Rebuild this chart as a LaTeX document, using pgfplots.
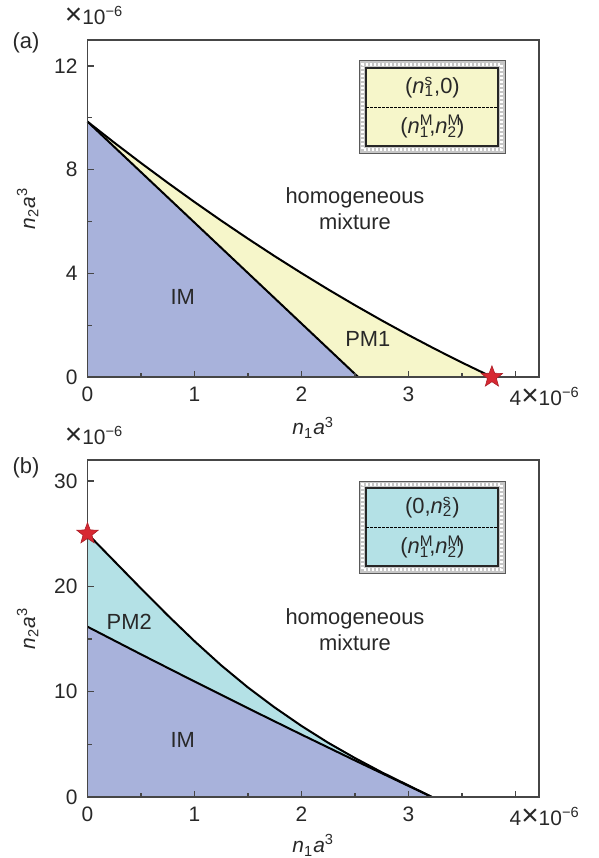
\documentclass[border=0pt]{standalone}
\usepackage{fontspec}
\setmainfont{Liberation Sans}
\usepackage{pgfplots}
\pgfplotsset{compat=1.18}

\definecolor{imblue}{RGB}{168,178,219}
\definecolor{pmyellow}{RGB}{246,246,202}
\definecolor{pmcyan}{RGB}{180,225,230}
\definecolor{starred}{RGB}{215,40,50}
\definecolor{axgray}{RGB}{70,70,70}
\definecolor{txt}{RGB}{40,40,40}

% filled five-pointed star
\pgfdeclareplotmark{fivestar}{%
  \pgfpathmoveto{\pgfpointpolar{90}{\pgfplotmarksize}}%
  \pgfpathlineto{\pgfpointpolar{126}{0.42\pgfplotmarksize}}%
  \pgfpathlineto{\pgfpointpolar{162}{\pgfplotmarksize}}%
  \pgfpathlineto{\pgfpointpolar{198}{0.42\pgfplotmarksize}}%
  \pgfpathlineto{\pgfpointpolar{234}{\pgfplotmarksize}}%
  \pgfpathlineto{\pgfpointpolar{270}{0.42\pgfplotmarksize}}%
  \pgfpathlineto{\pgfpointpolar{306}{\pgfplotmarksize}}%
  \pgfpathlineto{\pgfpointpolar{342}{0.42\pgfplotmarksize}}%
  \pgfpathlineto{\pgfpointpolar{18}{\pgfplotmarksize}}%
  \pgfpathlineto{\pgfpointpolar{54}{0.42\pgfplotmarksize}}%
  \pgfpathclose\pgfusepathqfillstroke}

\newcommand{\tck}{\fontsize{10.5}{12}\selectfont}
\newcommand{\lab}{\fontsize{11}{13}\selectfont}
\newcommand{\tenm}{{\fontsize{15}{15}\selectfont ×}10\textsuperscript{−6}}
\newcommand{\exten}{\rlap{\tenm}}

\pgfplotsset{
  frame/.style={
    scale only axis, width=225.75bp, height=168.5bp,
    anchor=south west, clip=false, xmin=0, xmax=4.22, ymin=0},
  panel/.style={
    frame, axis on top,
    xtick={0,1,2,3,4}, minor xtick={0.5,1.5,2.5,3.5},
    xticklabels={0,1,2,3,4\exten},
    tick pos=left, tick align=inside,
    major tick length=3bp, minor tick length=2bp,
    tick style={axgray, line width=0.6pt},
    axis line style={axgray, line width=0.8pt},
    ticklabel style={font=\tck, text=txt},
    xticklabel style={yshift=-1.5bp},
    yticklabel style={xshift=-1.5bp},
    /pgf/number format/assume math mode=true,
  },
  bnd/.style={black, line width=1bp},
  starplot/.style={only marks, mark=fivestar, mark size=5.6bp,
    mark options={fill=starred, draw=starred!80!black, line width=0.3pt}},
}

\begin{document}
\begin{tikzpicture}
\path[use as bounding box] (0,0) rectangle (299.5bp,-429bp);

% ---------- panel (a)
\begin{axis}[panel, at={(43.75bp,-188.5bp)},
  ymax=13, ytick={0,4,8,12}, minor ytick={2,6,10}, yticklabels={0,4,8,12}]
\addplot[fill=pmyellow, draw=none] coordinates {
(0,9.85)(0.25,9.042)(0.5,8.256)(0.75,7.493)(1.0,6.751)(1.25,6.032)(1.5,5.335)
(1.75,4.660)(2.0,4.008)(2.25,3.377)(2.5,2.769)(2.75,2.183)(3.0,1.619)
(3.25,1.077)(3.5,0.557)(3.78,0)} \closedcycle;
\addplot[fill=imblue, draw=none] coordinates {(0,9.85)(2.53,0)} \closedcycle;
\addplot[bnd] coordinates {
(0,9.85)(0.25,9.042)(0.5,8.256)(0.75,7.493)(1.0,6.751)(1.25,6.032)(1.5,5.335)
(1.75,4.660)(2.0,4.008)(2.25,3.377)(2.5,2.769)(2.75,2.183)(3.0,1.619)
(3.25,1.077)(3.5,0.557)(3.78,0)};
\addplot[bnd] coordinates {(0,9.85)(2.53,0)};

\node[font=\lab, text=txt, align=center] at (axis cs:2.5,6.5) {homogeneous\\mixture};
\node[font=\lab, text=txt] at (axis cs:0.89,3.09) {IM};
\node[font=\lab, text=txt] at (axis cs:2.62,1.47) {PM1};

% inset
\fill[gray!45] (rel axis cs:0.602,0.665) rectangle (rel axis cs:0.925,0.938);
\draw[white, line width=1.6bp, dash pattern=on 1bp off 1bp]
  (rel axis cs:0.6098,0.6755) rectangle (rel axis cs:0.9172,0.9275);
\draw[gray!70!black, line width=0.4bp] (rel axis cs:0.602,0.665) rectangle (rel axis cs:0.925,0.938);
\draw[fill=pmyellow, draw=black!85, line width=0.9bp]
  (rel axis cs:0.6175,0.686) rectangle (rel axis cs:0.9095,0.917);
\draw[black, line width=0.5bp, dash pattern=on 1.2bp off 0.8bp]
  (rel axis cs:0.6175,0.801) -- (rel axis cs:0.9095,0.801);
\node[font=\lab, text=txt] at (rel axis cs:0.764,0.858)
  {(\textit{n}\rlap{\textsuperscript{s}}\textsubscript{1},0)};
\node[font=\lab, text=txt] at (rel axis cs:0.764,0.742)
  {(\textit{n}\rlap{\textsuperscript{M}}\textsubscript{1},\textit{n}\rlap{\textsuperscript{M}}\textsubscript{2})};

% labels
\node[font=\tck, text=txt] at (axis cs:2.11,-1.95)
  {\textit{n}\textsubscript{1}\textit{a}\textsuperscript{3}};
\node[font=\tck, text=txt, rotate=90] at (axis cs:-0.56,6.5)
  {\textit{n}\textsubscript{2}\textit{a}\textsuperscript{3}};
\node[font=\tck, text=txt, anchor=west, inner sep=0pt]
  at (axis cs:-0.215,13.96) {\tenm};
\node[font=\lab, text=txt] at (axis cs:-0.575,12.88) {(a)};
\end{axis}
\begin{axis}[frame, hide axis, at={(43.75bp,-188.5bp)}, ymax=13]
\addplot[starplot] coordinates {(3.78,0)};
\end{axis}

% ---------- panel (b)
\begin{axis}[panel, at={(43.75bp,-398.5bp)},
  ymax=32, ytick={0,10,20,30}, minor ytick={5,15,25}, yticklabels={0,10,20,30}]
\addplot[fill=pmcyan, draw=none] coordinates {
(0,25.0)(0.25,22.4)(0.5,19.8)(0.75,17.25)(1.0,14.8)(1.25,12.5)(1.5,10.4)
(1.75,8.5)(2.0,6.75)(2.25,5.15)(2.5,3.70)(2.75,2.35)(3.0,1.10)(3.22,0)} \closedcycle;
\addplot[fill=imblue, draw=none] coordinates {
(0,16.17)(0.5,13.55)(1.0,10.97)(1.5,8.43)(2.0,5.93)(2.5,3.47)(3.0,1.05)(3.22,0)} \closedcycle;
\addplot[bnd] coordinates {
(0,25.0)(0.25,22.4)(0.5,19.8)(0.75,17.25)(1.0,14.8)(1.25,12.5)(1.5,10.4)
(1.75,8.5)(2.0,6.75)(2.25,5.15)(2.5,3.70)(2.75,2.35)(3.0,1.10)(3.22,0)};
\addplot[bnd] coordinates {
(0,16.17)(0.5,13.55)(1.0,10.97)(1.5,8.43)(2.0,5.93)(2.5,3.47)(3.0,1.05)(3.22,0)};

\node[font=\lab, text=txt, align=center] at (axis cs:2.5,15.85) {homogeneous\\mixture};
\node[font=\lab, text=txt] at (axis cs:0.39,16.6) {PM2};
\node[font=\lab, text=txt] at (axis cs:0.89,5.4) {IM};

% inset
\fill[gray!45] (rel axis cs:0.602,0.665) rectangle (rel axis cs:0.925,0.938);
\draw[white, line width=1.6bp, dash pattern=on 1bp off 1bp]
  (rel axis cs:0.6098,0.6755) rectangle (rel axis cs:0.9172,0.9275);
\draw[gray!70!black, line width=0.4bp] (rel axis cs:0.602,0.665) rectangle (rel axis cs:0.925,0.938);
\draw[fill=pmcyan, draw=black!85, line width=0.9bp]
  (rel axis cs:0.6175,0.686) rectangle (rel axis cs:0.9095,0.917);
\draw[black, line width=0.5bp, dash pattern=on 1.2bp off 0.8bp]
  (rel axis cs:0.6175,0.801) -- (rel axis cs:0.9095,0.801);
\node[font=\lab, text=txt] at (rel axis cs:0.764,0.858)
  {(0,\textit{n}\rlap{\textsuperscript{s}}\textsubscript{2})};
\node[font=\lab, text=txt] at (rel axis cs:0.764,0.742)
  {(\textit{n}\rlap{\textsuperscript{M}}\textsubscript{1},\textit{n}\rlap{\textsuperscript{M}}\textsubscript{2})};

% labels
\node[font=\tck, text=txt] at (axis cs:2.11,-4.6)
  {\textit{n}\textsubscript{1}\textit{a}\textsuperscript{3}};
\node[font=\tck, text=txt, rotate=90] at (axis cs:-0.56,16)
  {\textit{n}\textsubscript{2}\textit{a}\textsuperscript{3}};
\node[font=\tck, text=txt, anchor=west, inner sep=0pt]
  at (axis cs:-0.215,34.37) {\tenm};
\node[font=\lab, text=txt] at (axis cs:-0.575,31.24) {(b)};
\end{axis}
\begin{axis}[frame, hide axis, at={(43.75bp,-398.5bp)}, ymax=32]
\addplot[starplot] coordinates {(0,25)};
\end{axis}
\end{tikzpicture}
\end{document}
